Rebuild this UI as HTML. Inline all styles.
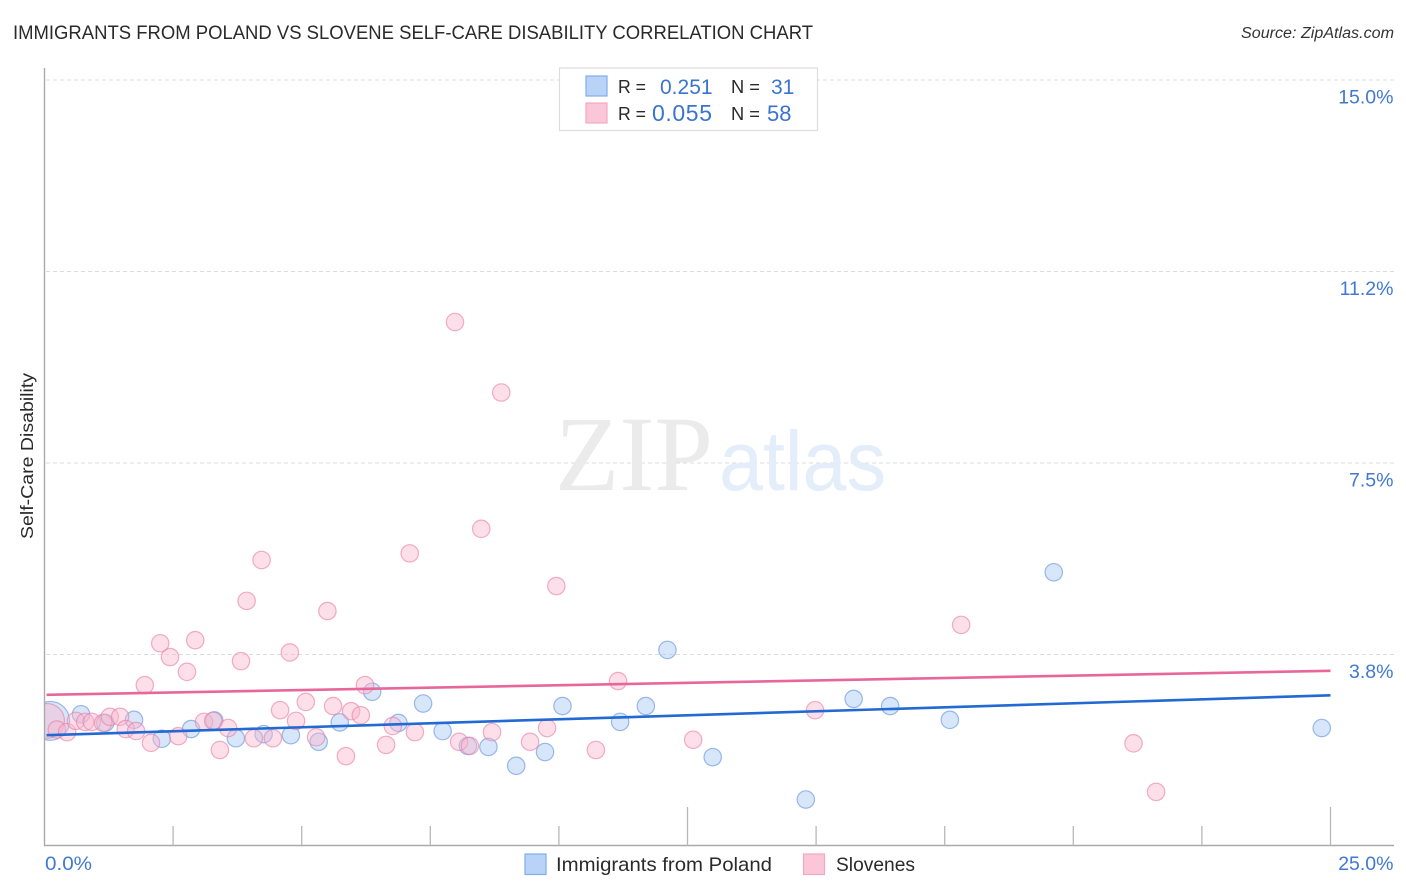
<!DOCTYPE html>
<html lang="en">
<head>
<meta charset="utf-8">
<title>Immigrants from Poland vs Slovene Self-Care Disability Correlation Chart</title>
<style>
html,body{margin:0;padding:0;background:#fff;}
svg{display:block;font-family:"Liberation Sans",sans-serif;}
</style>
</head>
<body>
<svg id="chart" xmlns="http://www.w3.org/2000/svg" width="1406" height="892" viewBox="0 0 1406 892">
  <defs><clipPath id="plot-clip"><rect x="44.5" y="60" width="1350" height="786"/></clipPath></defs>
  <rect x="0" y="0" width="1406" height="892" fill="#ffffff"/>
  <text x="13" y="39" font-size="19" fill="#2a2a2a" textLength="800" lengthAdjust="spacingAndGlyphs">IMMIGRANTS FROM POLAND VS SLOVENE SELF-CARE DISABILITY CORRELATION CHART</text>
  <text x="1241" y="38" font-size="15.5" font-style="italic" fill="#333333" textLength="153" lengthAdjust="spacingAndGlyphs">Source: ZipAtlas.com</text>
  <g id="grid"></g>
  <text x="555" y="490" font-family="'Liberation Serif',serif" font-size="107" fill="#ebebeb" textLength="158" lengthAdjust="spacingAndGlyphs">ZIP</text>
  <text x="719" y="490" font-size="84" fill="#e4edfa" textLength="167" lengthAdjust="spacingAndGlyphs">atlas</text>
  <g id="points" clip-path="url(#plot-clip)"></g>
  <g id="trends"></g>
  <g id="axes"></g>
  <text transform="translate(33,456) rotate(-90)" text-anchor="middle" font-size="17.5" fill="#2a2a2a" textLength="166" lengthAdjust="spacingAndGlyphs">Self-Care Disability</text>
  <g>
    <rect x="559.5" y="68" width="258" height="62.5" fill="#ffffff" stroke="#dddddd" stroke-width="1.2"/>
    <rect x="586" y="76" width="21" height="20" fill="#b9d3f8" stroke="#80aee8" stroke-width="1.2"/>
    <rect x="586" y="103" width="21" height="20" fill="#fbc6d8" stroke="#f4a9c3" stroke-width="1.2"/>
    <text x="618" y="93" font-size="18.5" fill="#2a2a2a" textLength="28" lengthAdjust="spacingAndGlyphs">R =</text>
    <text x="660" y="94" font-size="21" fill="#3b74cf">0.251</text>
    <text x="731" y="93" font-size="18.5" fill="#2a2a2a" textLength="29" lengthAdjust="spacingAndGlyphs">N =</text>
    <text x="771" y="94" font-size="21" fill="#3b74cf">31</text>
    <text x="618" y="120" font-size="18.5" fill="#2a2a2a" textLength="28" lengthAdjust="spacingAndGlyphs">R =</text>
    <text x="652" y="121" font-size="23" fill="#3b74cf" textLength="60" lengthAdjust="spacing">0.055</text>
    <text x="731" y="120" font-size="18.5" fill="#2a2a2a" textLength="29" lengthAdjust="spacingAndGlyphs">N =</text>
    <text x="767" y="121" font-size="22" fill="#3b74cf">58</text>
  </g>
  <g>
    <rect x="525" y="854" width="21" height="20.5" fill="#b9d3f8" stroke="#80aee8" stroke-width="1.2"/>
    <text x="556" y="871" font-size="19.5" fill="#2a2a2a" textLength="216" lengthAdjust="spacingAndGlyphs">Immigrants from Poland</text>
    <rect x="803.5" y="854" width="21" height="20.5" fill="#fbc6d8" stroke="#f4a9c3" stroke-width="1.2"/>
    <text x="836" y="871" font-size="19.5" fill="#2a2a2a" textLength="79" lengthAdjust="spacingAndGlyphs">Slovenes</text>
  </g>
</svg>
<script>
var polandX = [0.11,0.71,1.74,1.18,2.28,2.85,3.30,3.72,4.26,4.79,5.33,5.74,6.37,6.88,7.36,7.74,8.23,8.63,9.17,9.73,10.07,11.19,11.69,12.11,12.99,14.80,15.73,16.44,17.60,19.62,24.83];
var polandY = [2.45,2.58,2.47,2.41,2.10,2.29,2.46,2.11,2.19,2.17,2.04,2.42,3.02,2.41,2.79,2.25,1.96,1.94,1.57,1.84,2.74,2.43,2.74,3.84,1.74,0.91,2.88,2.74,2.47,5.36,2.31];
var polandWeight = [5,1,1,1,1,1,1,1,1,1,1,1,1,1,1,1,1,1,1,1,1,1,1,1,1,1,1,1,1,1,1];
var sloveneX = [0.05,0.24,0.44,0.61,0.79,0.92,1.14,1.27,1.47,1.58,1.78,2.07,2.60,3.10,3.28,3.57,4.07,4.44,3.41,1.95,2.77,2.44,2.25,2.93,3.82,4.77,4.58,4.89,5.08,5.28,5.61,5.86,5.96,6.15,6.23,6.64,6.77,7.20,8.06,8.27,8.70,9.44,9.77,10.72,11.15,12.61,14.98,17.82,21.17,21.61,7.98,8.88,8.49,7.10,9.95,4.22,3.93,5.50];
var sloveneY = [2.45,2.28,2.23,2.45,2.43,2.43,2.41,2.53,2.53,2.29,2.25,2.02,2.15,2.43,2.45,2.31,2.11,2.11,1.88,3.15,3.41,3.70,3.97,4.03,3.62,3.79,2.66,2.45,2.82,2.13,2.74,1.76,2.64,2.56,3.15,1.98,2.35,2.23,2.04,1.96,2.23,2.04,2.31,1.88,3.23,2.08,2.66,4.33,2.01,1.06,10.26,8.88,6.21,5.73,5.09,5.60,4.80,4.60];
var sloveneWeight = [4,1,1,1,1,1,1,1,1,1,1,1,1,1,1,1,1,1,1,1,1,1,1,1,1,1,1,1,1,1,1,1,1,1,1,1,1,1,1,1,1,1,1,1,1,1,1,1,1,1,1,1,1,1,1,1,1,1];
var polandTrendX = [0.04,25];
var polandTrendY = [2.17,2.95];
var sloveneTrendX = [0.04,25];
var sloveneTrendY = [2.96,3.43];
var yTicks = [3.75,7.5,11.25,15];
var yTickLabels = ['3.8%','7.5%','11.2%','15.0%'];
var xTicks = [2.5,5,7.5,10,12.5,15,17.5,20,22.5,25];
var xMajorTicks = [12.5,25];
var xEndLabels = ['0.0%','25.0%'];

var NS = 'http://www.w3.org/2000/svg';
function xScale(v){ return 44.5 + v * 1286 / 25; }
function yScale(v){ return 846 - v * 51.07; }
function radiusFor(w){ return 8.7 * Math.sqrt(w); }
function make(tag, parent, attrs){
  var el = document.createElementNS(NS, tag);
  for (var k in attrs) { el.setAttribute(k, attrs[k]); }
  parent.appendChild(el);
  return el;
}
var grid = document.getElementById('grid');
var axes = document.getElementById('axes');
var points = document.getElementById('points');
var trends = document.getElementById('trends');

yTicks.forEach(function(t, i){
  var line = make('line', grid, {x1:46, x2:1394, y1:yScale(t), y2:yScale(t), stroke:'#dcdcdc', 'stroke-width':1, 'stroke-dasharray':'4 3'});
  
  
  var label = make('text', axes, {x:1393.5, y:yScale(t) + 23.5, 'text-anchor':'end', 'font-size':19.5, fill:'#4078d2'});
  
  
  label.textContent = yTickLabels[i];
});

var yAxis = make('line', axes, {x1:44.5, x2:44.5, y1:68, y2:846, stroke:'#aaaaaa', 'stroke-width':1.4});


var xAxis = make('line', axes, {x1:44, x2:1394, y1:845.5, y2:845.5, stroke:'#aaaaaa', 'stroke-width':1.4});



xTicks.forEach(function(t){
  var top = xMajorTicks.indexOf(t) >= 0 ? 807 : 826;
  var tick = make('line', axes, {x1:xScale(t), x2:xScale(t), y1:top, y2:845.5, stroke:'#b8b8b8', 'stroke-width':1.3});
  
  
});

var xLabel0 = make('text', axes, {x:45, y:870, 'font-size':19.5, fill:'#4078d2', textLength:47, lengthAdjust:'spacingAndGlyphs'});


xLabel0.textContent = xEndLabels[0];
var xLabel1 = make('text', axes, {x:1393.5, y:870, 'text-anchor':'end', 'font-size':19.5, fill:'#4078d2'});


xLabel1.textContent = xEndLabels[1];

polandX.forEach(function(v, i){
  var c = make('circle', points, {cx:xScale(v), cy:yScale(polandY[i]), r:radiusFor(polandWeight[i]), fill:'#a9c8f5', 'fill-opacity':0.45, stroke:'#5c8fe0', 'stroke-opacity':0.6, 'stroke-width':1.2});
  
  
});
sloveneX.forEach(function(v, i){
  var c = make('circle', points, {cx:xScale(v), cy:yScale(sloveneY[i]), r:radiusFor(sloveneWeight[i]), fill:'#f9b9cf', 'fill-opacity':0.45, stroke:'#ea7ba3', 'stroke-opacity':0.6, 'stroke-width':1.2});
  
  
});

var sloveneLine = make('line', trends, {x1:xScale(sloveneTrendX[0]), y1:yScale(sloveneTrendY[0]), x2:xScale(sloveneTrendX[1]), y2:yScale(sloveneTrendY[1]), stroke:'#e8679a', 'stroke-width':2.6});


var polandLine = make('line', trends, {x1:xScale(polandTrendX[0]), y1:yScale(polandTrendY[0]), x2:xScale(polandTrendX[1]), y2:yScale(polandTrendY[1]), stroke:'#2269d3', 'stroke-width':2.6});


</script>
</body>
</html>
